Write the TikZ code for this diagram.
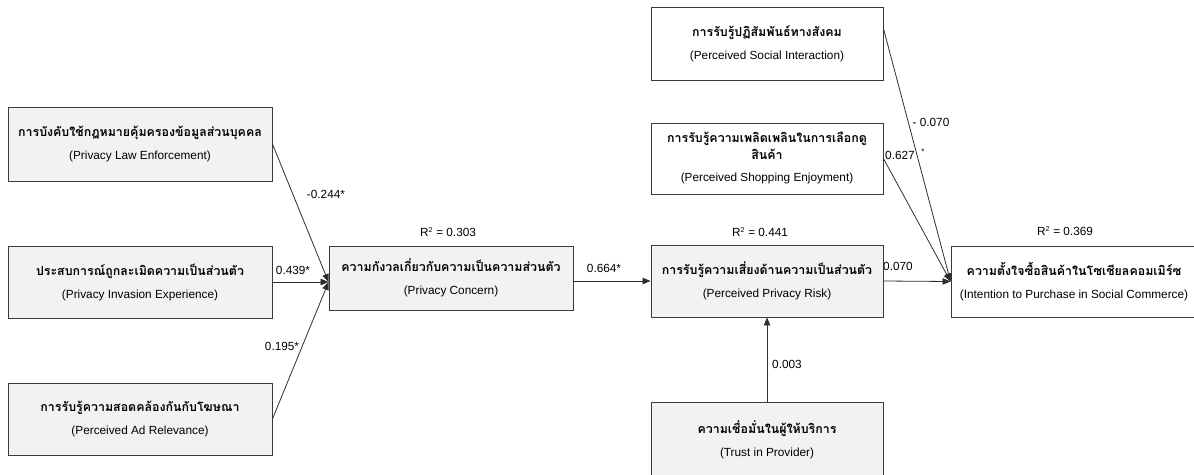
\documentclass[tikz,border=0pt]{standalone}
\usepackage{fontspec}
\setmainfont{Liberation Sans}
\newfontfamily\thaifont[Script=Thai]{Loma}
\usetikzlibrary{arrows.meta,calc,shadows}
\definecolor{boxgray}{HTML}{F2F2F2}
\definecolor{edgec}{HTML}{3A3A3A}
\definecolor{linec}{HTML}{2E2E2E}
\newcommand\thaiset{\thaifont\bfseries\fontsize{12.4}{14}\selectfont}
\newcommand\twoline[2]{\thaiset #1\\[9pt]\normalfont #2}
\tikzset{
  basebox/.style 2 args={draw=edgec, line width=0.9pt, minimum width=#1pt, minimum height=#2pt,
    align=center, inner sep=0pt, font=\fontsize{11.8}{14}\selectfont,
    drop shadow={shadow xshift=0.8pt, shadow yshift=-1.2pt, fill=gray!80, opacity=1}},
  greybox/.style 2 args={basebox={#1}{#2}, fill=boxgray},
  whitebox/.style 2 args={basebox={#1}{#2}, fill=white},
  conn/.style={draw=linec, line width=0.8pt, -{Triangle[length=8pt,width=6.5pt]}},
  coef/.style={font=\fontsize{11.8}{14}\selectfont, inner sep=0pt}
}
\begin{document}
\begin{tikzpicture}[x=1pt,y=-1pt]
\useasboundingbox (0,0) rectangle (1194,474);
% left constructs
\node[greybox={264}{74}] (ple) at (140,144) {\twoline{การบังคับใช้กฎหมายคุ้มครองข้อมูลส่วนบุคคล}{(Privacy Law Enforcement)}};
\node[greybox={264}{72}] (pie) at (140,282) {\twoline{ประสบการณ์ถูกละเมิดความเป็นส่วนตัว}{(Privacy Invasion Experience)}};
\node[greybox={264}{72}] (par) at (140,419) {\twoline{การรับรู้ความสอดคล้องกันกับโฆษณา}{(Perceived Ad Relevance)}};
% privacy concern
\node[greybox={244}{64}] (pc) at (451,278) {\twoline{ความกังวลเกี่ยวกับความเป็นความส่วนตัว}{(Privacy Concern)}};
% perceived privacy risk
\node[greybox={232}{72}] (ppr) at (767,281) {\twoline{การรับรู้ความเสี่ยงด้านความเป็นส่วนตัว}{(Perceived Privacy Risk)}};
% trust
\node[greybox={232}{76}] (tp) at (767,440) {\twoline{ความเชื่อมั่นในผู้ให้บริการ}{(Trust in Provider)}};
% top right constructs
\node[whitebox={232}{73}] (psi) at (767,43.5) {\twoline{การรับรู้ปฏิสัมพันธ์ทางสังคม}{(Perceived Social Interaction)}};
\node[whitebox={232}{71}] (pse) at (767,158.5) {\thaiset การรับรู้ความเพลิดเพลินในการเลือกดู\\[3pt]\thaiset สินค้า\\[8pt]\normalfont(Perceived Shopping Enjoyment)};
% intention
\node[whitebox={246}{71}] (ipsc) at (1074,281.5) {\twoline{ความตั้งใจซื้อสินค้าในโซเชียลคอมเมิร์ซ}{(Intention to Purchase in Social Commerce)}};

% connectors
\coordinate (pcin) at ($(pc.west)+(0,4)$);
\draw[conn] (ple.east) -- (pcin);
\draw[conn] (pie.east) -- (pcin);
\draw[conn] (par.east) -- (pcin);
\draw[conn] (pc.east |- ppr.west) -- (ppr.west);
\draw[conn] (tp.north) -- (ppr.south);
\draw[conn] (ppr.east) -- (ipsc.west);
\draw[conn] ($(psi.north east)+(0,22)$) -- (ipsc.west);
\draw[conn] (pse.east) -- (ipsc.west);

% coefficient labels
\node[coef] (c1) at (326,194) {-0.244*};
\node[coef] (c2) at (293,270) {0.439*};
\node[coef] (c3) at (282,346) {0.195*};
\node[coef] (r1) at (448,232) {R\textsuperscript{\scriptsize 2} = 0.303};
\node[coef] (c4) at (604,268) {0.664*};
\node[coef] (r2) at (760,232) {R\textsuperscript{\scriptsize 2} = 0.441};
\node[coef] (c5) at (898,266) {0.070};
\node[coef] (r3) at (1065,231) {R\textsuperscript{\scriptsize 2} = 0.369};
\node[coef] (c6) at (931,122) {- 0.070};
\node[coef] (c7) at (900,155) {0.627};
\node[coef, font=\fontsize{8}{9}\selectfont] (c8) at (923,152) {*};
\node[coef] (c9) at (787,364) {0.003};
\end{tikzpicture}
\end{document}
